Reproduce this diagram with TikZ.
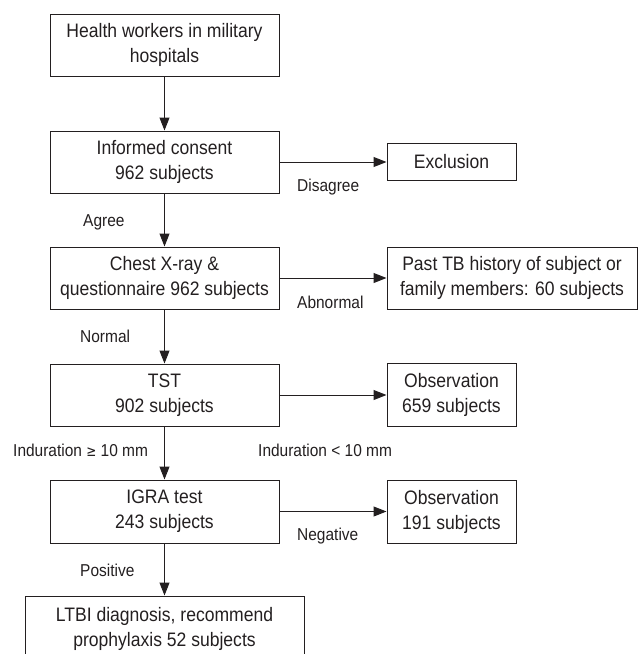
\documentclass[tikz,border=0pt]{standalone}
\usepackage{fontspec}
\setmainfont{Liberation Sans}[FakeStretch=0.9]
\usetikzlibrary{arrows.meta}
\definecolor{ink}{HTML}{231F20}
\tikzset{
  box/.style={draw=ink, line width=1pt, inner sep=0pt, align=center, text=ink,
    font=\fontsize{19.5}{25}\selectfont},
  mainbox/.style={box, minimum width=229pt, minimum height=62pt},
  sidebox/.style={box, minimum width=129pt},
  lbl/.style={inner sep=0pt, anchor=base west, text=ink, font=\fontsize{17.2}{20}\selectfont},
  conn/.style={draw=ink, line width=1pt, -{Triangle[length=13pt,width=10pt]}}
}
\begin{document}
\begin{tikzpicture}[x=1pt,y=-1pt]
\useasboundingbox (0,0) rectangle (638,654);
\node[mainbox] (b1) at (164.5,45) {Health workers in military\\hospitals};
\node[mainbox] (b2) at (164.5,162) {Informed consent\\962 subjects};
\node[mainbox] (b3) at (164.5,278) {Chest X-ray \&\\questionnaire 962 subjects};
\node[mainbox] (tst) at (164.5,395) {TST\\902 subjects};
\node[mainbox, minimum height=63pt] (igra) at (164.5,511.5) {IGRA test\\243 subjects};
\node[box, minimum width=279pt, minimum height=65pt] (ltbi) at (164.5,628.5) {LTBI diagnosis, recommend\\prophylaxis 52 subjects};
\node[sidebox, minimum height=37pt] (excl) at (451.5,161.5) {Exclusion};
\node[box, minimum width=250pt, minimum height=62pt] (past) at (512,278) {Past TB history of subject or\\family members: 60 subjects};
\node[sidebox, minimum height=63pt] (obs1) at (451.5,394.5) {Observation\\659 subjects};
\node[sidebox, minimum height=63pt] (obs2) at (451.5,511.5) {Observation\\191 subjects};
\draw[conn] (b1) -- (b2);
\draw[conn] (b2) -- (b3);
\draw[conn] (b3) -- (tst);
\draw[conn] (tst) -- (igra);
\draw[conn] (igra) -- (ltbi);
\draw[conn] (b2.east) -- (b2.east -| excl.west);
\draw[conn] (b3.east) -- (b3.east -| past.west);
\draw[conn] (tst.east) -- (tst.east -| obs1.west);
\draw[conn] (igra.east) -- (igra.east -| obs2.west);
\node[lbl] (l1) at (297,191) {Disagree};
\node[lbl] (l2) at (83,226) {Agree};
\node[lbl] (l3) at (297,308) {Abnormal};
\node[lbl] (l4) at (80,342) {Normal};
\node[lbl] (l5) at (13,456) {Induration {\fontspec{DejaVu Sans}[FakeStretch=0.8]\fontsize{15}{20}\selectfont≥} 10 mm};
\node[lbl] (l6) at (258,456) {Induration < 10 mm};
\node[lbl] (l7) at (297,540) {Negative};
\node[lbl] (l8) at (80,576) {Positive};
\end{tikzpicture}
\end{document}
